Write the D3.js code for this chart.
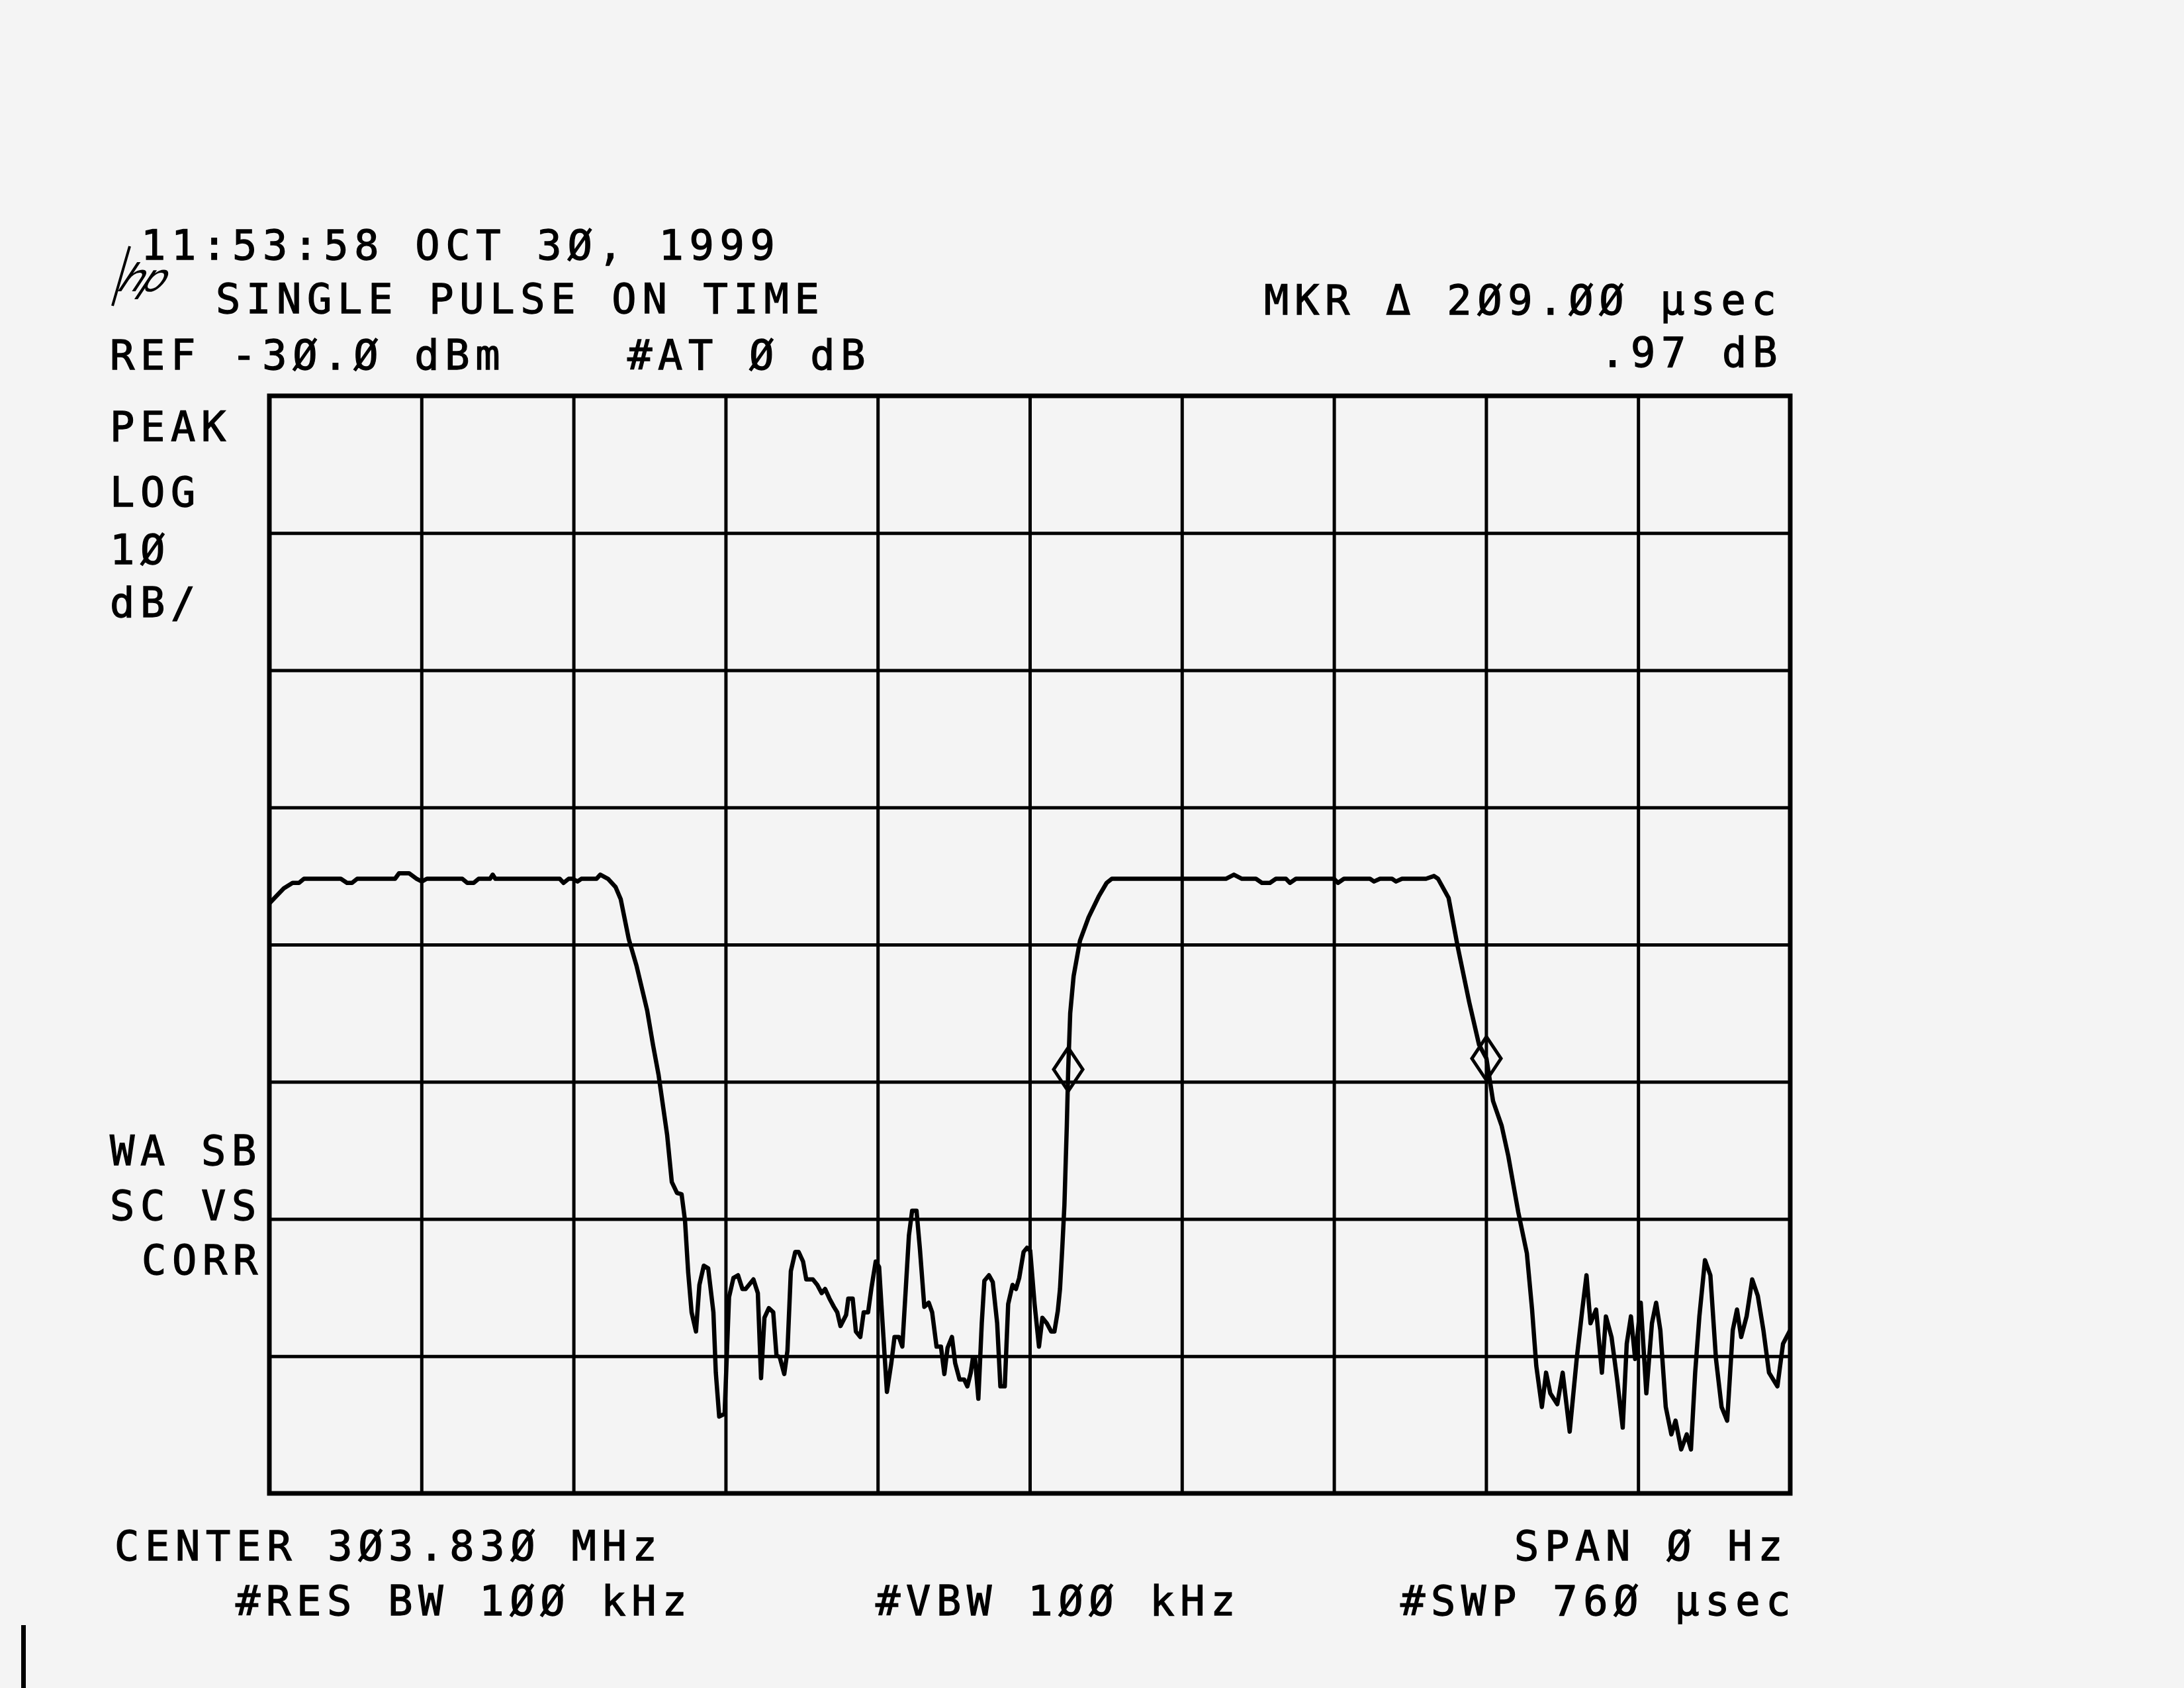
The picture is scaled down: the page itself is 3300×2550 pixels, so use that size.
<!DOCTYPE html>
<html>
<head>
<meta charset="utf-8">
<script src="https://cdn.jsdelivr.net/npm/d3@7"></script>
<style>
html, body { margin: 0; padding: 0; background: #f4f4f4; }
svg { display: block; }
.lbl { font-family: "DejaVu Sans Mono", monospace; font-size: 62px; fill: #000; stroke: #000; stroke-width: 1.3px; letter-spacing: 8.7px; }
.grid line { stroke: #000; stroke-width: 5px; }
.grid path { display: none; }
</style>
</head>
<body>
<svg width="3300" height="2550"></svg>
<script>
// sweep 760 usec across 10 div, log 10 dB/div below REF -30 dBm
var xTicks = d3.range(0, 761, 76);
var yTicks = d3.range(-110, -29, 10);

// trace (usec, dBm)
var timeUs = [0, 7.2, 11.6, 14.8, 17.3, 35.7, 38.8, 41.3, 43.9, 62.8, 64.8, 69.8, 73.6, 76.2, 78.7, 96.4, 98.9, 102.1, 104.6, 110.3,
  111.6, 112.9, 145.1, 147.0, 149.6, 151.5, 154.0, 155.9, 163.5, 165.4, 169.2, 173.0, 175.6, 179.6, 183.4, 188.8, 191.7, 194.5, 198.8, 201.1,
  203.7, 206.0, 207.7, 209.3, 211.0, 213.2, 214.9, 217.1, 219.3, 221.9, 223.1, 224.8, 227.5, 229.7, 231.9, 234.2, 236.4, 238.0, 241.9, 244.1,
  245.7, 247.4, 249.6, 251.8, 253.4, 255.1, 257.3, 258.9, 260.6, 262.8, 264.5, 266.7, 268.3, 271.6, 273.8, 276.0, 277.7, 279.9, 282.1, 283.8,
  285.4, 288.2, 289.3, 291.5, 293.1, 295.3, 297.0, 299.2, 300.9, 303.0, 304.7, 306.3, 308.6, 310.8, 312.4, 314.6, 316.3, 317.9, 319.6, 321.2,
  323.4, 325.1, 327.3, 329.5, 331.2, 333.4, 335.6, 337.3, 338.9, 341.1, 342.7, 344.9, 347.2, 348.8, 350.5, 351.6, 352.6, 354.3, 356.0, 357.3,
  359.6, 361.5, 363.7, 365.3, 367.5, 369.2, 371.4, 373.1, 374.7, 376.9, 378.6, 380.2, 382.4, 384.6, 386.3, 388.5, 390.7, 392.3, 394.0, 395.1,
  396.2, 397.3, 398.5, 399.2, 400.2, 401.9, 405.1, 409.4, 414.4, 418.4, 421.0, 450, 478, 482, 486, 493, 496, 500, 503, 508,
  510, 513, 532, 534, 537, 550, 552, 555, 561, 563, 566, 578, 582, 584, 589.3, 593.9, 599.6, 604.5, 608.2, 611.5,
  615.8, 619.1, 624.1, 628.4, 631.0, 633.1, 635.9, 638.0, 640.1, 643.6, 646.3, 649.8, 653.3, 656.1, 658.2, 660.2, 663.0, 665.9, 667.9, 670.7,
  673.5, 676.3, 678.3, 680.4, 682.5, 685.3, 688.1, 690.9, 693.0, 695.1, 697.8, 700.6, 702.7, 705.5, 708.3, 710.4, 712.5, 714.6, 717.4, 720.1,
  722.9, 725.7, 728.5, 731.3, 733.4, 735.5, 738.2, 741.0, 743.8, 746.6, 749.4, 753.6, 756.4, 760];
var levelDbm = [-67.0, -65.9, -65.5, -65.5, -65.2, -65.2, -65.5, -65.5, -65.2, -65.2, -64.8, -64.8, -65.2, -65.4, -65.2, -65.2, -65.5, -65.5, -65.2, -65.2,
  -64.9, -65.2, -65.2, -65.5, -65.2, -65.2, -65.4, -65.2, -65.2, -64.9, -65.2, -65.8, -66.7, -69.6, -71.5, -74.8, -77.3, -79.5, -83.9, -87.3,
  -88.1, -88.2, -90.1, -93.9, -96.8, -98.2, -94.8, -93.4, -93.6, -96.8, -101.2, -104.4, -104.2, -95.7, -94.3, -94.1, -95.1, -95.1, -94.4, -95.4,
  -101.6, -97.2, -96.5, -96.8, -99.9, -100.1, -101.3, -99.6, -93.8, -92.4, -92.4, -93.1, -94.4, -94.4, -94.8, -95.4, -95.1, -95.8, -96.4, -96.8,
  -97.8, -97.0, -95.8, -95.8, -98.2, -98.6, -96.8, -96.8, -95.0, -93.1, -93.5, -97.3, -102.6, -100.5, -98.6, -98.6, -99.3, -95.4, -91.2, -89.4,
  -89.4, -92.2, -96.4, -96.1, -96.8, -99.3, -99.3, -101.3, -99.4, -98.6, -100.5, -101.7, -101.7, -102.2, -101.2, -100.1, -100.1, -103.1, -97.6, -94.5,
  -94.1, -94.6, -97.6, -102.2, -102.2, -96.2, -94.8, -95.1, -94.3, -92.4, -92.1, -92.3, -96.2, -99.3, -97.2, -97.6, -98.2, -98.2, -96.7, -95.1,
  -92.2, -89.0, -83.2, -79.1, -75.0, -72.3, -69.7, -68.0, -66.5, -65.5, -65.2, -65.2, -65.2, -64.9, -65.2, -65.2, -65.5, -65.5, -65.2, -65.2,
  -65.5, -65.2, -65.2, -65.5, -65.2, -65.2, -65.4, -65.2, -65.2, -65.4, -65.2, -65.2, -65.0, -65.2, -66.6, -70.2, -74.2, -77.3, -78.3, -81.4,
  -83.2, -85.4, -89.5, -92.5, -96.6, -100.7, -103.7, -101.2, -102.7, -103.5, -101.2, -105.5, -100.2, -96.6, -94.1, -97.6, -96.6, -101.2, -97.1, -98.6,
  -101.7, -105.2, -99.1, -97.1, -100.2, -96.1, -102.7, -97.6, -96.1, -98.1, -103.7, -105.7, -104.7, -106.8, -105.7, -106.8, -101.2, -97.1, -93.0, -94.1,
  -100.2, -103.7, -104.7, -98.1, -96.6, -98.6, -97.1, -94.4, -95.6, -98.1, -101.2, -102.2, -99.1, -98.1];

// delta markers, 209 usec apart
var markerUs = [399.2, 608.2];
var markerDbm = [-79.1, -78.3];

var stampText = "11:53:58 OCT 3Ø, 1999";
var titleText = "SINGLE PULSE ON TIME";
var refText = ["REF -3Ø.Ø dBm", "#AT Ø dB"];
var mkrText = ["MKR Δ 2Ø9.ØØ µsec", ".97 dB"];
var modeText = ["PEAK", "LOG", "1Ø", "dB/"];
var statusText = ["WA SB", "SC VS", "CORR"];
var footText = ["CENTER 3Ø3.83Ø MHz", "SPAN Ø Hz", "#RES BW 1ØØ kHz", "#VBW 1ØØ kHz", "#SWP 76Ø µsec"];

var svg = d3.select("svg");

var x = d3.scaleLinear().domain([0, 760]).range([407, 2705]);
var y = d3.scaleLinear().domain([-110, -30]).range([2256, 598]);
var plotH = y(-110) - y(-30);
var plotW = x(760) - x(0);

// graticule
svg.append("g").attr("class", "grid")
  .attr("transform", "translate(0," + y(-110) + ")")
  .call(d3.axisBottom(x).tickValues(xTicks).tickSize(-plotH).tickFormat(""));
svg.append("g").attr("class", "grid")
  .attr("transform", "translate(" + x(0) + ",0)")
  .call(d3.axisLeft(y).tickValues(yTicks).tickSize(-plotW).tickFormat(""));

svg.append("rect")
  .attr("x", x(0)).attr("y", y(-30))
  .attr("width", plotW).attr("height", plotH)
  .attr("fill", "none").attr("stroke", "#000").attr("stroke-width", 7);

// trace
var pts = timeUs.map(function(t, i) { return [t, levelDbm[i]]; });
var line = d3.line()
  .x(function(d) { return x(d[0]); })
  .y(function(d) { return y(d[1]); });

svg.append("path")
  .datum(pts)
  .attr("d", line)
  .attr("fill", "none")
  .attr("stroke", "#000")
  .attr("stroke-width", 6.5)
  .attr("stroke-linejoin", "round");

// diamond markers
svg.selectAll(".mkr")
  .data(markerUs)
  .enter().append("path")
  .attr("class", "mkr")
  .attr("d", function(t, i) {
    var cx = x(t), cy = y(markerDbm[i]);
    return "M" + cx + "," + (cy - 33) + "L" + (cx + 22) + "," + cy + "L" + cx + "," + (cy + 33) + "L" + (cx - 22) + "," + cy + "Z";
  })
  .attr("fill", "none")
  .attr("stroke", "#000")
  .attr("stroke-width", 5);

// annotation text
function label(txt, px, py) {
  svg.append("text").attr("class", "lbl").attr("x", px).attr("y", py).text(txt);
}

label(stampText, 213, 392);
label(titleText, 326, 473);
label(refText[0], 166, 558);
label(refText[1], 948, 558);
label(mkrText[0], 1910, 475);
label(mkrText[1], 2418, 554);

var modeY = [666, 765, 852, 932];
modeText.forEach(function(s, i) { label(s, 166, modeY[i]); });

label(statusText[0], 166, 1760);
label(statusText[1], 166, 1843);
label(statusText[2], 214, 1925);

label(footText[0], 173, 2357);
label(footText[1], 2288, 2357);
label(footText[2], 356, 2440);
label(footText[3], 1323, 2440);
label(footText[4], 2116, 2440);

// hp logo
svg.append("text")
  .attr("x", 0).attr("y", 0)
  .attr("transform", "translate(176,440) skewX(-25)")
  .style("font-family", "DejaVu Sans")
  .style("font-size", "58px")
  .style("font-style", "italic")
  .style("letter-spacing", "-4px")
  .text("hp");
svg.append("line")
  .attr("x1", 196).attr("y1", 372).attr("x2", 170).attr("y2", 462)
  .attr("stroke", "#000").attr("stroke-width", 4);

// edge of the scanned sheet
svg.append("rect").attr("x", 32).attr("y", 2455).attr("width", 7).attr("height", 95).attr("fill", "#000");
</script>
</body>
</html>
